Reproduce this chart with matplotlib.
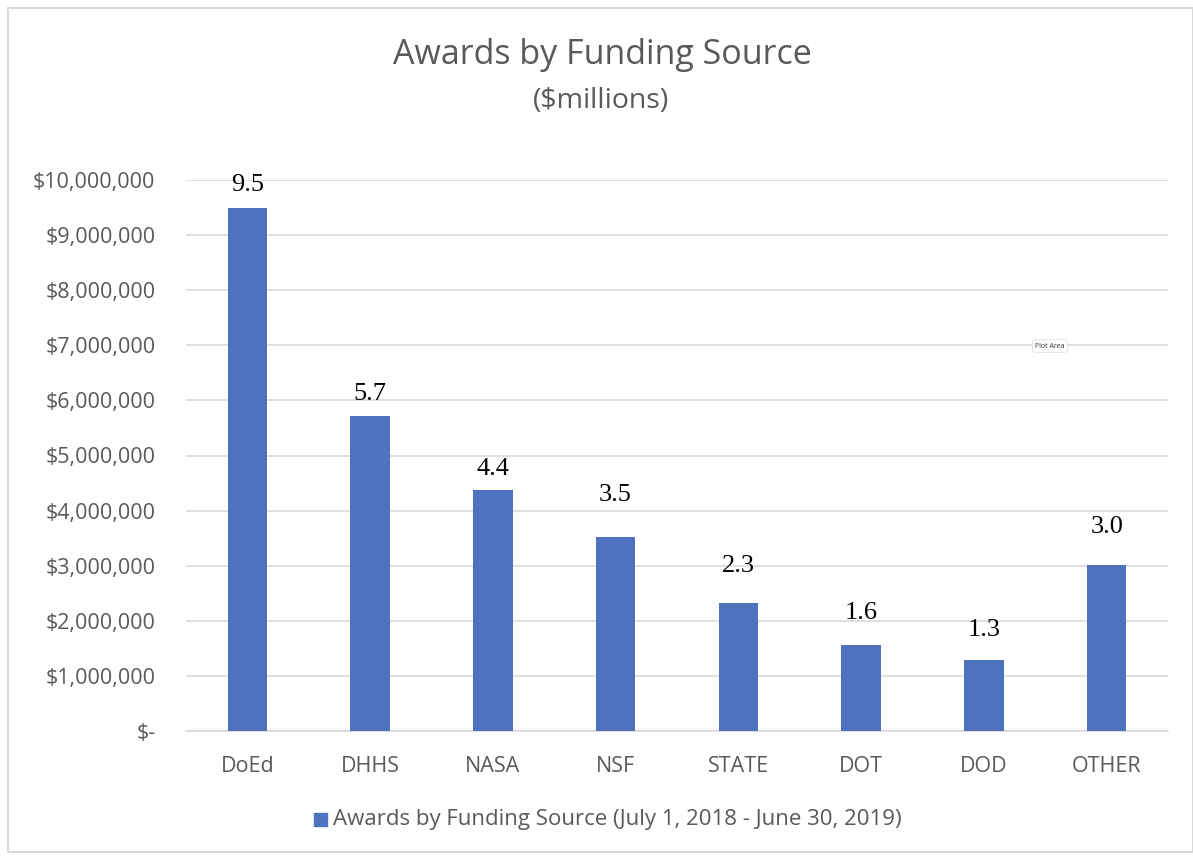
import numpy as np
import matplotlib.pyplot as plt
from matplotlib.patches import Rectangle

# data
categories = ['DoEd', 'DHHS', 'NASA', 'NSF', 'STATE', 'DOT', 'DOD', 'OTHER']
awards = [9490000, 5720000, 4370000, 3520000, 2320000, 1560000, 1290000, 3010000]
labels = ['9.5', '5.7', '4.4', '3.5', '2.3', '1.6', '1.3', '3.0']
yticks = np.arange(0, 10000001, 1000000)

# label centre height above bar top, in pixels (labels were hand placed)
label_gap_px = [23, 22, 21, 42, 37, 32, 30, 38]

bar_color = '#4f72bf'
text_color = '#595959'
grid_color = '#d9d9d9'

plt.rcParams['font.family'] = ['Open Sans', 'DejaVu Sans']

W, H = 1193, 856
fig = plt.figure(figsize=(W / 100, H / 100), dpi=100)
ax = fig.add_axes([186 / W, 1 - 731 / H, 982 / W, 551 / H])

x = np.arange(len(categories))
ax.bar(x, awards, width=0.32, color=bar_color, zorder=3)

px_per_unit = 551 / 10000000
for xi, v, lab, gap in zip(x, awards, labels, label_gap_px):
    ax.text(xi, v + gap / px_per_unit, lab, ha='center', va='center',
            fontsize=19, family='Liberation Serif', color='black', zorder=4)

ax.set_xlim(-0.5, 7.5)
ax.set_ylim(0, 10000000)
ax.set_yticks(yticks)
ax.set_yticklabels(['$-'] + ['${:,.0f}'.format(v) for v in yticks[1:]])
ax.set_xticks(x)
ax.set_xticklabels(categories)
ax.tick_params(axis='both', length=0, colors=text_color, labelsize=15.5)
ax.tick_params(axis='y', pad=22)
ax.tick_params(axis='x', pad=18)
ax.grid(axis='y', color=grid_color, linewidth=1.2, zorder=0)
for s in ['top', 'right', 'left']:
    ax.spines[s].set_visible(False)
ax.spines['bottom'].set_color(grid_color)
ax.spines['bottom'].set_linewidth(1.2)

# titles
fig.text(602 / W, 1 - 55 / H, 'Awards by Funding Source', ha='center', va='center',
         fontsize=24.5, color=text_color)
fig.text(601 / W, 1 - 101 / H, '($millions)', ha='center', va='center',
         fontsize=20.5, color=text_color)

# legend
fig.patches.append(Rectangle((314 / W, 1 - 826 / H), 13 / W, 13 / H,
                             transform=fig.transFigure, color=bar_color))
fig.text(333 / W, 1 - 820 / H, 'Awards by Funding Source (July 1, 2018 - June 30, 2019)',
         ha='left', va='center', fontsize=16, color=text_color)

# "Plot Area" hover tag
fig.text(1050 / W, 1 - 346 / H, 'Plot Area', ha='center', va='center', fontsize=5,
         color='#333333', bbox=dict(boxstyle='round,pad=0.4', fc='white', ec='#dddddd', lw=0.6))

# chart border
fig.patches.append(Rectangle((8 / W, 4 / H), 1 - 8 / W, 1 - 12 / H,
                             transform=fig.transFigure, fill=False, ec='#d9d9d9', lw=1.5))

fig.savefig('out.png', dpi=100)
